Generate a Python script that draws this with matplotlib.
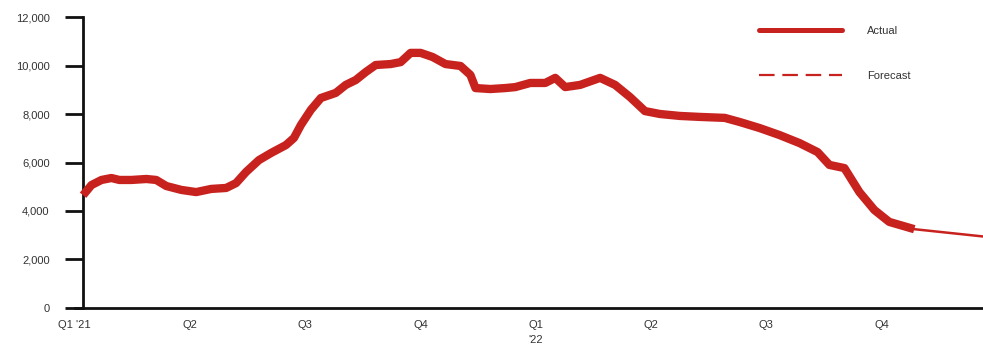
import matplotlib
matplotlib.use("Agg")
import matplotlib.pyplot as plt
from matplotlib.lines import Line2D

# Positions are in quarters since Q1 2021
actual_t = [0.074, 0.147, 0.234, 0.320, 0.389, 0.493, 0.623, 0.709, 0.796, 0.926,
            1.055, 1.185, 1.315, 1.401, 1.488, 1.600, 1.704, 1.834, 1.903, 1.964,
            2.050, 2.137, 2.266, 2.353, 2.439, 2.526, 2.612, 2.742, 2.829, 2.915,
            3.002, 3.106, 3.218, 3.348, 3.434, 3.478, 3.607, 3.737, 3.824, 3.953,
            4.083, 4.170, 4.256, 4.386, 4.559, 4.689, 4.818, 4.948, 5.078, 5.251,
            5.424, 5.640, 5.770, 5.943, 6.116, 6.289, 6.445, 6.548, 6.678, 6.808,
            6.938, 7.067, 7.284]
actual_v = [4650, 5070, 5280, 5360, 5280, 5280, 5320, 5280, 5030, 4870,
            4780, 4910, 4950, 5150, 5610, 6100, 6390, 6720, 7010, 7550,
            8170, 8660, 8870, 9200, 9400, 9730, 10020, 10060, 10140, 10520,
            10520, 10350, 10060, 9980, 9610, 9070, 9030, 9070, 9110, 9280,
            9280, 9490, 9110, 9200, 9490, 9200, 8700, 8120, 8000, 7920,
            7880, 7840, 7670, 7420, 7130, 6800, 6430, 5900, 5770, 4780,
            4040, 3550, 3250]

forecast_t = [7.284, 7.88]
forecast_v = [3250, 2950]

tick_pos = [0, 1, 2, 3, 4, 5, 6, 7]
tick_labels = ["Q1 '21", "Q2", "Q3", "Q4", "Q1\n'22", "Q2", "Q3", "Q4"]
y_ticks = [0, 2000, 4000, 6000, 8000, 10000, 12000]
y_labels = ["0", "2,000", "4,000", "6,000", "8,000", "10,000", "12,000"]

red = "#c8221f"
text_color = "#333333"

plt.rcParams["font.family"] = ["Liberation Sans", "DejaVu Sans"]

fig = plt.figure(figsize=(9.83, 3.47), dpi=100)
ax = fig.add_axes([0.0758, 0.1124, 0.9242, 0.8386])

ax.plot(actual_t, actual_v, color=red, lw=6.0, solid_capstyle="butt",
        solid_joinstyle="round", zorder=3)
ax.plot(forecast_t, forecast_v, color=red, lw=1.8, zorder=2)

ax.set_xlim(0, 7.88)
ax.set_ylim(0, 12000)

for s in ("top", "right"):
    ax.spines[s].set_visible(False)
for s in ("left", "bottom"):
    ax.spines[s].set_linewidth(2.0)
    ax.spines[s].set_color("#111111")
# the value axis sits a little after the start of the first quarter
ax.spines["left"].set_position(("data", 0.074))

ax.set_yticks(y_ticks)
ax.set_yticklabels(y_labels)
ax.tick_params(axis="y", length=13, width=2.0, color="#111111", pad=11,
               labelsize=8, labelcolor=text_color)

ax.set_xticks(tick_pos)
ax.set_xticklabels(tick_labels)
ax.tick_params(axis="x", length=0, pad=9, labelsize=8, labelcolor=text_color)
for lbl in ax.get_xticklabels():
    lbl.set_verticalalignment("top")
    lbl.set_linespacing(1.6)

handles = [
    Line2D([], [], color=red, lw=3.6, solid_capstyle="round"),
    Line2D([], [], color=red, lw=1.6, linestyle=(0, (7, 3.5))),
]
leg = ax.legend(handles, ["Actual", "Forecast"], loc="upper left",
                bbox_to_anchor=(0.762, 0.955), bbox_transform=fig.transFigure,
                frameon=False, handlelength=7.5, handletextpad=2.2,
                labelspacing=3.2, fontsize=8)
for t in leg.get_texts():
    t.set_color(text_color)

fig.savefig("out.png", dpi=100)
